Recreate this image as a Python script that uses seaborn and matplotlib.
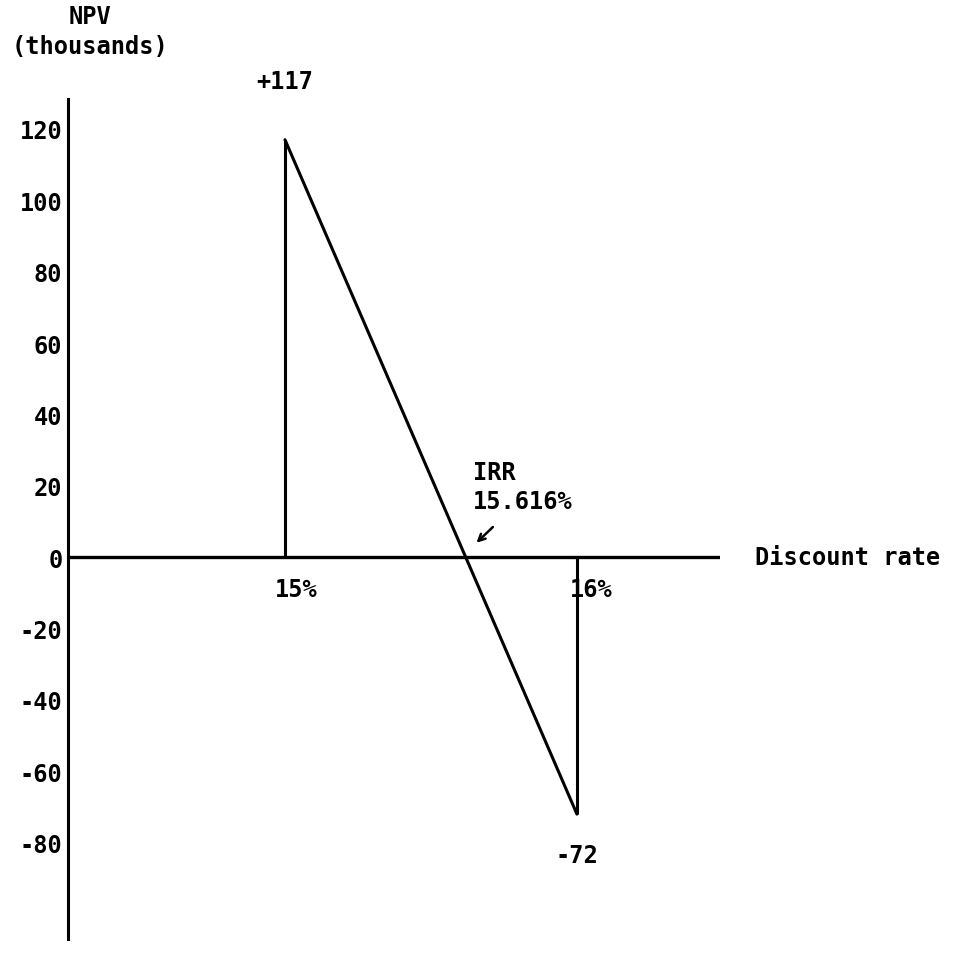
import numpy as np
import pandas as pd
import matplotlib
matplotlib.use("Agg")
import matplotlib.pyplot as plt
import seaborn as sns

rates = [15, 16]
npv = [117, -72]
rate_labels = ["15%", "16%"]
point_labels = ["+117", "-72"]
y_ticks = [120, 100, 80, 60, 40, 20, 0, -20, -40, -60, -80]
irr_text = "IRR\n15.616%"

df = pd.DataFrame({"rate": rates, "npv": npv})
irr = rates[0] + npv[0] / (npv[0] - npv[1]) * (rates[1] - rates[0])

sns.set_theme(style="white")
plt.rcParams["font.family"] = ["DejaVu Sans Mono"]
plt.rcParams["font.weight"] = "bold"
plt.rcParams["text.color"] = "black"
plt.rcParams["ytick.color"] = "black"
fs = 17

fig = plt.figure(figsize=(9.59, 9.54), dpi=100)
W, H = 959, 954
ax = fig.add_axes([68 / W, (H - 940) / H, (720 - 68) / W, (940 - 100) / H])

sns.lineplot(data=df, x="rate", y="npv", color="black", linewidth=2.2, ax=ax)
ax.vlines(rates, 0, npv, color="black", linewidth=2.2)
ax.axhline(0, color="black", linewidth=2.4)

ax.set_xlim(14.257, 16.49)
ax.set_ylim(-107, 128.4)

for s in ["top", "right", "bottom"]:
    ax.spines[s].set_visible(False)
ax.spines["left"].set_color("black")
ax.spines["left"].set_linewidth(2.2)

ax.set_xticks([])
ax.set_yticks(y_ticks)
ax.set_yticklabels([str(t) for t in y_ticks], fontsize=fs, fontweight="bold", color="black")
ax.tick_params(axis="y", length=0, pad=4)
ax.set_xlabel("")
ax.set_ylabel("")

# labels under the axis
ax.text(rates[0] + 0.04, -5.5, rate_labels[0], ha="center", va="top", fontsize=fs, fontweight="bold")
ax.text(rates[1] + 0.05, -5.5, rate_labels[1], ha="center", va="top", fontsize=fs, fontweight="bold")

# value labels
ax.text(rates[0], npv[0] + 13, point_labels[0], ha="center", va="bottom", fontsize=fs, fontweight="bold", clip_on=False)
ax.text(rates[1], npv[1] - 8, point_labels[1], ha="center", va="top", fontsize=fs, fontweight="bold")

# IRR annotation
ax.text(irr + 0.025, 12.5, irr_text, ha="left", va="bottom", fontsize=fs, fontweight="bold", linespacing=1.25)
ax.annotate("", xy=(irr + 0.03, 3.5), xytext=(irr + 0.1, 9),
            arrowprops=dict(arrowstyle="->", color="black", lw=1.8))

ax.text(16.61, 0, "Discount rate", ha="left", va="center", fontsize=fs, fontweight="bold", clip_on=False)

fig.text(90 / W, 1 - 5 / H, "NPV\n(thousands)", ha="center", va="top", fontsize=fs,
         fontweight="bold", linespacing=1.3)

plt.savefig("out.png", dpi=100)
